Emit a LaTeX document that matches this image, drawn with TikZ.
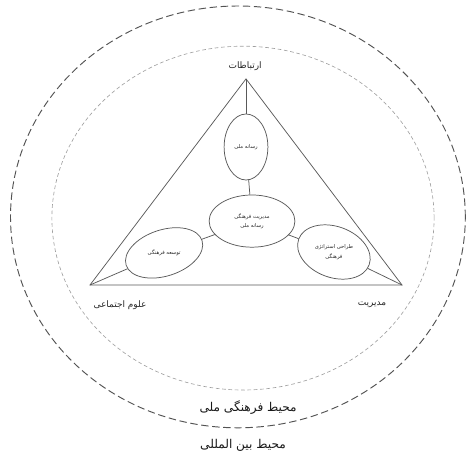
\documentclass[tikz,border=0pt]{standalone}
\usepackage{fontspec}
\usetikzlibrary{shapes.geometric}
\TeXXeTstate=1
\newfontfamily\arabicfont[Script=Arabic]{DejaVu Sans}
\newcommand{\rtl}[1]{\beginR #1\endR}
\begin{document}
\begin{tikzpicture}[line width=0.7pt, draw=gray!70!black,
  oval/.style={ellipse, draw=gray!70!black, line width=0.7pt, inner sep=0pt},
  tiny/.style={font=\arabicfont\fontsize{5}{7}\selectfont, align=center, text=black!85},
  corner/.style={font=\arabicfont\fontsize{8.5}{10}\selectfont, text=black!85},
  envlabel/.style={font=\arabicfont\fontsize{11.5}{13}\selectfont, text=black!90}]
\useasboundingbox (0,0) rectangle (15.6,15.3);
% environments
\draw [gray!65!black, line width=0.9pt, dash pattern=on 7pt off 3.5pt] (7.93,8.07) ellipse (7.58 and 7.03);
\draw [gray!75, line width=0.6pt, dash pattern=on 3.5pt off 2.5pt] (8.1,8.03) ellipse (6.37 and 5.73);
% triangle
\coordinate (apex) at (8.2,12.67);
\coordinate (sw) at (3.0,5.8);
\coordinate (se) at (13.4,5.8);
\draw [gray!70!black] (apex)--(sw)--(se)--cycle;
% ovals
\node [oval, minimum width=1.46cm, minimum height=2.2cm] (media) at (8.2,10.4) {};
\node [oval, minimum width=2.86cm, minimum height=1.74cm] (core) at (8.4,7.93) {};
\node [oval, minimum width=2.66cm, minimum height=1.54cm, rotate=18] (devel) at (5.47,6.87) {};
\node [oval, minimum width=2.5cm, minimum height=1.7cm, rotate=-20] (strat) at (11.13,6.9) {};
\draw (apex)--(media);
\draw (media)--(core);
\draw (core)--(devel);
\draw (devel)--(sw);
\draw (core)--(strat);
\draw (strat)--(se);
% texts
\node [tiny] at (media) {\rtl{رسانه ملی}};
\node [tiny] at (core) {\rtl{مدیریت فرهنگی}\\[2pt]\rtl{رسانه ملی}};
\node [tiny] at (devel) {\rtl{توسعه فرهنگی}};
\node [tiny] at (strat) {\rtl{طراحی استراتژی}\\[2pt]\rtl{فرهنگی}};
\node [corner] at (8.17,13.1) {\rtl{ارتباطات}};
\node [corner] at (4.0,5.13) {\rtl{علوم اجتماعی}};
\node [corner] at (12.4,5.15) {\rtl{مدیریت}};
\node [envlabel] at (8.27,1.7) {\rtl{محیط فرهنگی ملی}};
\node [envlabel] at (8.1,0.47) {\rtl{محیط بین المللی}};
\end{tikzpicture}
\end{document}
